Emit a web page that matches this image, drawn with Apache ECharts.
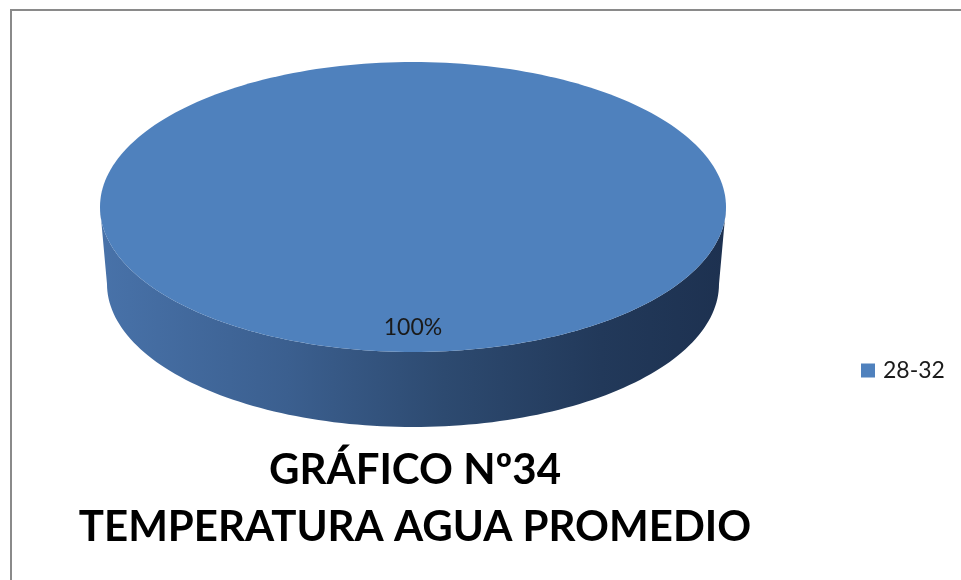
<!DOCTYPE html>
<html>
<head>
<meta charset="utf-8">
<script src="https://cdn.jsdelivr.net/npm/echarts@6/dist/echarts.min.js"></script>
<style>
  html, body { margin: 0; padding: 0; background: #fff; }
  #chart { width: 961px; height: 580px; }
</style>
</head>
<body>
<div id="chart"></div>
<script>
// datos del gráfico
var categories = ['28-32'];
var values = [100];
var sliceColors = ['#4f81bd'];
var titleLines = ['GRÁFICO Nº34', 'TEMPERATURA AGUA PROMEDIO'];

var total = values.reduce(function (a, b) { return a + b; }, 0);

// geometría del pastel 3D (elipse superior y base)
var cx = 413, cy = 207, rx = 313, ry = 145;
var depth = 77, rxB = 306, ryB = 143;

function pt(x0, y0, a, b, t) {
  return [x0 + a * Math.cos(t), y0 + b * Math.sin(t)];
}

function arcPoints(x0, y0, a, b, s, e, n) {
  var pts = [];
  for (var k = 0; k <= n; k++) pts.push(pt(x0, y0, a, b, s + (e - s) * k / n));
  return pts;
}

function renderSlice(params, api) {
  var idx = params.seriesIndex;
  var before = 0;
  for (var i = 0; i < idx; i++) before += values[i];
  var v = api.value(1);
  var t0 = -Math.PI / 2 + before / total * 2 * Math.PI;
  var t1 = t0 + v / total * 2 * Math.PI;
  var children = [];

  // cara lateral visible (mitad frontal)
  var s0 = Math.max(t0, 0), s1 = Math.min(t1, Math.PI);
  if (s1 > s0) {
    var top = arcPoints(cx, cy, rx, ry, s0, s1, 120);
    var bot = arcPoints(cx, cy + depth, rxB, ryB, s1, s0, 120);
    children.push({
      type: 'polygon',
      shape: { points: top.concat(bot) },
      style: {
        fill: new echarts.graphic.LinearGradient(cx - rx, 0, cx + rx, 0, [
          { offset: 0, color: '#4872a9' },
          { offset: 0.3, color: '#3b5f8f' },
          { offset: 0.55, color: '#2d4a70' },
          { offset: 0.8, color: '#22395a' },
          { offset: 1, color: '#1d3150' }
        ], true)
      }
    });
  }

  // cara superior
  var full = (t1 - t0) >= 2 * Math.PI - 1e-6;
  var topPts = arcPoints(cx, cy, rx, ry, t0, t1, 240);
  if (!full) topPts.push([cx, cy]);
  children.push({
    type: 'polygon',
    shape: { points: topPts },
    style: { fill: sliceColors[idx] }
  });

  // etiqueta de porcentaje
  var mid = (t0 + t1) / 2;
  var lp = pt(cx, cy, rx * 0.83, ry * 0.83, mid);
  children.push({
    type: 'text',
    x: lp[0], y: lp[1],
    style: {
      text: Math.round(v / total * 100) + '%',
      fontFamily: 'Lato', fontSize: 23, fill: '#1a1a1a',
      align: 'center', verticalAlign: 'middle'
    }
  });

  return { type: 'group', children: children };
}

var chart = echarts.init(document.getElementById('chart'));
chart.setOption({
  backgroundColor: '#fff',
  animation: false,
  legend: {
    data: categories,
    orient: 'vertical',
    left: 856,
    top: 354,
    icon: 'rect',
    itemWidth: 14,
    itemHeight: 14,
    itemGap: 8,
    textStyle: { fontFamily: 'Lato', fontSize: 23, color: '#1a1a1a', padding: [0, 0, 0, 3] }
  },
  graphic: [
    {
      type: 'rect', silent: true, z: -1,
      shape: { x: 11, y: 10, width: 1000, height: 700 },
      style: { fill: 'none', stroke: '#8a8a8a', lineWidth: 2 }
    },
    {
      type: 'text', x: 415, y: 470,
      style: {
        text: titleLines[0], fontFamily: 'Lato', fontWeight: 'bold', fontSize: 42,
        fill: '#000', align: 'center', verticalAlign: 'middle'
      }
    },
    {
      type: 'text', x: 415, y: 527,
      style: {
        text: titleLines[1], fontFamily: 'Lato', fontWeight: 'bold', fontSize: 42,
        fill: '#000', align: 'center', verticalAlign: 'middle'
      }
    }
  ],
  series: categories.map(function (c, i) {
    return {
      type: 'custom',
      name: c,
      coordinateSystem: 'none',
      itemStyle: { color: sliceColors[i] },
      renderItem: renderSlice,
      data: [[i, values[i]]]
    };
  })
});
</script>
</body>
</html>
